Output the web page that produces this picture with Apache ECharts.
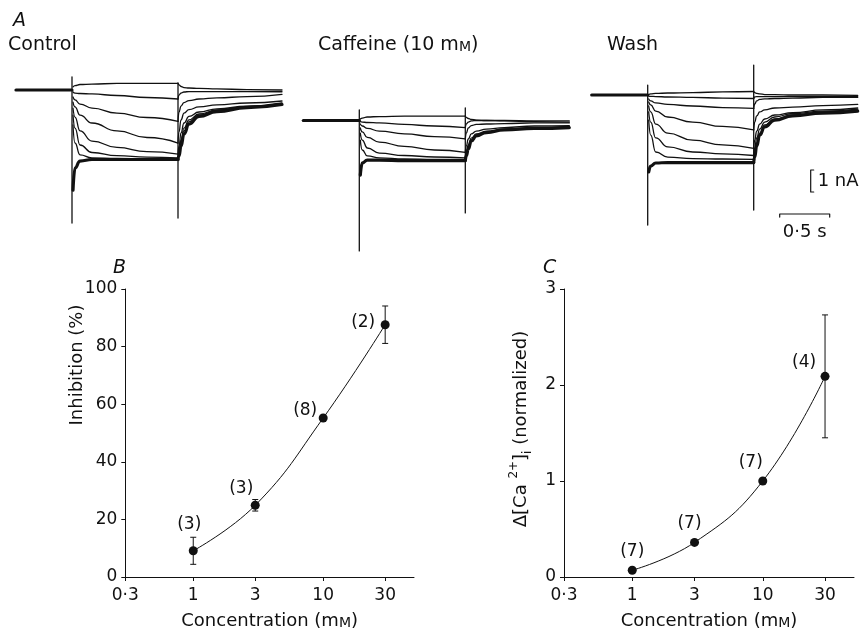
<!DOCTYPE html>
<html>
<head>
<meta charset="utf-8">
<script src="https://cdn.jsdelivr.net/npm/echarts@6/dist/echarts.min.js"></script>
<style>
html, body { margin: 0; padding: 0; background: #fff; }
#chart { width: 865px; height: 631px; }
</style>
</head>
<body>
<div id="chart"></div>
<script>
// ---- Panel A: membrane currents (nA, relative to holding current) vs time (s, step onset = 0)
const holdTimes = [-0.56, 0];
const pulseTimes = [0.01, 0.03, 0.08, 0.2, 0.45, 0.75, 1.06];
const pulseEnd = 1.06;
const tailTimes = [1.07, 1.09, 1.12, 1.17, 1.27, 1.45, 1.75, 2.1];

const controlPulse = [
  [0.14, 0.2, 0.25, 0.27, 0.3, 0.3, 0.3],
  [-0.09, -0.14, -0.16, -0.18, -0.25, -0.34, -0.41],
  [-0.32, -0.45, -0.64, -0.82, -1.05, -1.25, -1.43],
  [-0.55, -0.77, -1.14, -1.5, -1.86, -2.16, -2.41],
  [-0.82, -1.23, -1.86, -2.32, -2.61, -2.8, -2.91],
  [-1.14, -1.73, -2.5, -2.84, -2.98, -3.05, -3.09],
  [-1.59, -2.41, -2.95, -3.09, -3.11, -3.14, -3.14],
  [-4.55, -3.55, -3.23, -3.16, -3.16, -3.16, -3.16]
];
const controlTail = [
  [0.23, 0.16, 0.11, 0.09, 0.07, 0.05, 0.02, 0],
  [-0.23, -0.14, -0.09, -0.07, -0.07, -0.07, -0.07, -0.08],
  [-1.0, -0.73, -0.57, -0.48, -0.41, -0.36, -0.3, -0.2],
  [-1.91, -1.36, -1.05, -0.89, -0.77, -0.68, -0.59, -0.5],
  [-2.55, -1.95, -1.5, -1.2, -1.0, -0.86, -0.73, -0.59],
  [-2.82, -2.27, -1.73, -1.36, -1.09, -0.91, -0.75, -0.61],
  [-2.91, -2.41, -1.86, -1.45, -1.14, -0.93, -0.77, -0.64],
  [-3.0, -2.55, -2.0, -1.55, -1.2, -0.98, -0.8, -0.66]
];
const controlOnsetSpike = [0.59, -6.05];
const controlOffsetSpike = [0.32, -5.82];

const caffeinePulse = [
  [0.07, 0.11, 0.16, 0.18, 0.2, 0.2, 0.2],
  [-0.05, -0.07, -0.09, -0.11, -0.18, -0.25, -0.32],
  [-0.16, -0.25, -0.36, -0.48, -0.61, -0.73, -0.84],
  [-0.34, -0.52, -0.77, -0.98, -1.18, -1.34, -1.45],
  [-0.57, -0.89, -1.25, -1.48, -1.59, -1.66, -1.7],
  [-0.89, -1.34, -1.61, -1.7, -1.75, -1.77, -1.77],
  [-2.48, -1.93, -1.8, -1.8, -1.82, -1.82, -1.82]
];
const caffeineTail = [
  [0.14, 0.09, 0.05, 0.02, 0, 0, -0.02, -0.02],
  [-0.16, -0.07, -0.02, 0, 0, -0.02, -0.05, -0.07],
  [-0.57, -0.34, -0.23, -0.18, -0.16, -0.14, -0.11, -0.11],
  [-1.16, -0.84, -0.61, -0.48, -0.39, -0.32, -0.25, -0.23],
  [-1.43, -1.11, -0.8, -0.61, -0.48, -0.39, -0.32, -0.27],
  [-1.52, -1.2, -0.89, -0.66, -0.52, -0.41, -0.34, -0.3],
  [-1.61, -1.3, -0.93, -0.7, -0.55, -0.43, -0.36, -0.32]
];
const caffeineOnsetSpike = [0.48, -5.93];
const caffeineOffsetSpike = [0.57, -4.2];

const washPulse = [
  [0.02, 0.05, 0.07, 0.09, 0.11, 0.14, 0.16],
  [-0.05, -0.06, -0.07, -0.09, -0.11, -0.14, -0.16],
  [-0.18, -0.27, -0.36, -0.43, -0.5, -0.57, -0.61],
  [-0.32, -0.45, -0.73, -1.0, -1.23, -1.43, -1.59],
  [-0.5, -0.77, -1.32, -1.73, -2.05, -2.27, -2.43],
  [-0.77, -1.23, -1.95, -2.36, -2.59, -2.68, -2.75],
  [-1.14, -1.82, -2.59, -2.82, -2.89, -2.91, -2.93],
  [-3.5, -3.23, -3.09, -3.07, -3.07, -3.07, -3.07]
];
const washTail = [
  [0.11, 0.07, 0.05, 0.02, 0.02, 0, 0, -0.02],
  [-0.09, -0.07, -0.07, -0.07, -0.07, -0.07, -0.07, -0.07],
  [-0.41, -0.27, -0.2, -0.18, -0.16, -0.14, -0.11, -0.11],
  [-1.23, -0.95, -0.77, -0.68, -0.59, -0.55, -0.48, -0.43],
  [-2.05, -1.64, -1.32, -1.09, -0.91, -0.8, -0.68, -0.59],
  [-2.41, -1.95, -1.55, -1.23, -1.0, -0.84, -0.73, -0.64],
  [-2.64, -2.18, -1.73, -1.36, -1.09, -0.91, -0.77, -0.68],
  [-2.82, -2.32, -1.82, -1.45, -1.14, -0.95, -0.82, -0.73]
];
const washOnsetSpike = [0.45, -5.91];
const washOffsetSpike = [1.36, -5.23];

// calibration bars (drawn in the Wash panel's axes)
const currentBarNA = 1;     // 1 nA
const timeBarS = 0.5;       // 0.5 s
const currentBarAt = [1.63, -3.41];
const timeBarAt = [1.32, -5.41];

// ---- Panels B and C: concentration-response data
const concentrations = [1, 3, 10, 30];          // mM
const concTicks = [0.3, 1, 3, 10, 30];
const concTickLabels = ['0·3', '1', '3', '10', '30'];
const inhibition = [9.1, 24.9, 55.2, 87.6];     // %
const inhibitionErr = [4.7, 2.0, 0, 6.5];
const inhibitionN = ['(3)', '(3)', '(8)', '(2)'];
const caRise = [0.07, 0.36, 1.0, 2.09];         // normalized
const caRiseErr = [0, 0, 0, 0.64];
const caRiseN = ['(7)', '(7)', '(7)', '(4)'];

// ---- styling
const INK = '#111';
const FONT = '"DejaVu Sans", sans-serif';
const labelShiftB = [[-4, -26], [-14, -17], [-18, -7], [-22, -2]];
const labelShiftC = [[0, -19], [-5, -19], [-12, -18], [-21, -14]];

const chart = echarts.init(document.getElementById('chart'), null, { renderer: 'canvas' });

// trace panels: time axis 100 px/s, current axis 22 px/nA
const tracePanels = [
  { left: 12, top: 57, pulse: controlPulse, tail: controlTail, on: controlOnsetSpike, off: controlOffsetSpike },
  { left: 299.3, top: 87.5, pulse: caffeinePulse, tail: caffeineTail, on: caffeineOnsetSpike, off: caffeineOffsetSpike },
  { left: 587.7, top: 62, pulse: washPulse, tail: washTail, on: washOnsetSpike, off: washOffsetSpike }
];

const grids = [], xAxes = [], yAxes = [], series = [];

function traceLine(axis, data, width, smooth) {
  return {
    type: 'line', xAxisIndex: axis, yAxisIndex: axis, data: data,
    symbol: 'none', showSymbol: false, silent: true, clip: false,
    smooth: smooth ? 0.5 : false, smoothMonotone: 'x',
    lineStyle: { color: INK, width: width, cap: 'round', join: 'round' },
    z: 3
  };
}

tracePanels.forEach((p, gi) => {
  grids.push({ left: p.left, top: p.top, width: 275, height: 187 });
  xAxes.push({ type: 'value', gridIndex: gi, min: -0.6, max: 2.15, show: false });
  yAxes.push({ type: 'value', gridIndex: gi, min: -7, max: 1.5, show: false });
  // holding current before the step
  series.push(traceLine(gi, holdTimes.map(t => [t, 0]), 3.2, false));
  p.pulse.forEach((vals, k) => {
    const w = k === p.pulse.length - 1 ? 3.2 : 1.3;
    series.push(traceLine(gi, pulseTimes.map((t, i) => [t, vals[i]]), w, true));
    const tail = [[pulseEnd, vals[vals.length - 1]]].concat(tailTimes.map((t, i) => [t, p.tail[k][i]]));
    series.push(traceLine(gi, tail, w, true));
  });
  // capacitive transients at step onset and offset
  series.push(traceLine(gi, [[0, p.on[0]], [0, p.on[1]]], 1.3, false));
  series.push(traceLine(gi, [[pulseEnd, p.off[0]], [pulseEnd, p.off[1]]], 1.3, false));
});

// calibration bars
series.push(traceLine(2, [
  [currentBarAt[0] + 0.03, currentBarAt[1]], currentBarAt,
  [currentBarAt[0], currentBarAt[1] - currentBarNA], [currentBarAt[0] + 0.03, currentBarAt[1] - currentBarNA]
], 1.2, false));
series.push(traceLine(2, [
  [timeBarAt[0], timeBarAt[1] - 0.14], timeBarAt,
  [timeBarAt[0] + timeBarS, timeBarAt[1]], [timeBarAt[0] + timeBarS, timeBarAt[1] - 0.14]
], 1.2, false));
series.push({
  type: 'scatter', xAxisIndex: 2, yAxisIndex: 2, symbolSize: 0, silent: true,
  itemStyle: { opacity: 1 },
  data: [
    { value: [currentBarAt[0] + 0.07, currentBarAt[1] - currentBarNA / 2], label: { formatter: '1 nA', align: 'left' } },
    { value: [timeBarAt[0] + timeBarS / 2, timeBarAt[1] - 0.82], label: { formatter: '0·5 s', align: 'center' } }
  ],
  label: { show: true, position: 'inside', verticalAlign: 'middle', color: INK, fontFamily: FONT, fontSize: 18 }
});

// concentration-response panels
const logTicks = concTicks.map(Math.log10);
function tickText(v) {
  let best = 0;
  logTicks.forEach((t, i) => { if (Math.abs(t - v) < Math.abs(logTicks[best] - v)) best = i; });
  return concTickLabels[best];
}
function doseAxes(gi, left, width, yMax, yStep) {
  grids.push({ left: left, top: 289, width: width, height: 288 });
  xAxes.push({
    type: 'value', gridIndex: gi, min: Math.log10(0.3), max: Math.log10(50),
    name: '{t|Concentration (m}{s|M}{t|)}', nameLocation: 'middle', nameGap: 35,
    nameTextStyle: {
      color: INK, fontFamily: FONT, fontSize: 18,
      rich: { t: { fontFamily: FONT, fontSize: 18, color: INK, verticalAlign: 'bottom' },
              s: { fontFamily: FONT, fontSize: 14, color: INK, verticalAlign: 'bottom' } }
    },
    axisLine: { onZero: false, lineStyle: { color: INK, width: 1 } },
    axisTick: { customValues: logTicks, length: 4, lineStyle: { color: INK } },
    axisLabel: { customValues: logTicks, formatter: tickText, color: INK, fontFamily: FONT, fontSize: 17, margin: 10 },
    splitLine: { show: false }
  });
  yAxes.push({
    type: 'value', gridIndex: gi, min: 0, max: yMax, interval: yStep,
    axisLine: { show: true, onZero: false, lineStyle: { color: INK, width: 1 } },
    axisTick: { show: true, length: 4, lineStyle: { color: INK } },
    axisLabel: { color: INK, fontFamily: FONT, fontSize: 17, margin: 8 },
    splitLine: { show: false }
  });
}
doseAxes(3, 125.3, 288.7, 100, 20);
doseAxes(4, 564, 290, 3, 1);

function dosePanel(gi, vals, errs, nLabels, shifts) {
  const pts = concentrations.map((c, i) => [Math.log10(c), vals[i]]);
  series.push({
    type: 'line', xAxisIndex: gi, yAxisIndex: gi, data: pts, smooth: 0.45,
    symbol: 'none', silent: true, lineStyle: { color: INK, width: 1 }, z: 2
  });
  series.push({
    type: 'custom', xAxisIndex: gi, yAxisIndex: gi, silent: true, z: 3,
    data: concentrations.map((c, i) => [Math.log10(c), vals[i] - errs[i], vals[i] + errs[i]]).filter((d, i) => errs[i] > 0),
    encode: { x: 0, y: [1, 2] },
    renderItem: function (params, api) {
      const lo = api.coord([api.value(0), api.value(1)]);
      const hi = api.coord([api.value(0), api.value(2)]);
      const st = { stroke: INK, lineWidth: 1 };
      return {
        type: 'group', children: [
          { type: 'line', shape: { x1: lo[0], y1: lo[1], x2: hi[0], y2: hi[1] }, style: st },
          { type: 'line', shape: { x1: lo[0] - 3, y1: lo[1], x2: lo[0] + 3, y2: lo[1] }, style: st },
          { type: 'line', shape: { x1: hi[0] - 3, y1: hi[1], x2: hi[0] + 3, y2: hi[1] }, style: st }
        ]
      };
    }
  });
  series.push({
    type: 'scatter', xAxisIndex: gi, yAxisIndex: gi, silent: true, z: 4,
    symbol: 'circle', symbolSize: 9, itemStyle: { color: INK, opacity: 1 },
    data: pts.map((p, i) => ({ value: p, label: { offset: shifts[i] } })),
    label: {
      show: true, position: 'inside', align: 'center', verticalAlign: 'middle',
      color: INK, fontFamily: FONT, fontSize: 17,
      formatter: p => nLabels[p.dataIndex]
    }
  });
}
dosePanel(3, inhibition, inhibitionErr, inhibitionN, labelShiftB);
dosePanel(4, caRise, caRiseErr, caRiseN, labelShiftC);

function txt(x, y, text, size, extra) {
  return Object.assign({
    type: 'text', x: x, y: y, silent: true,
    style: Object.assign({
      text: text, fill: INK, font: size + 'px ' + FONT,
      textAlign: 'left', textVerticalAlign: 'middle', align: 'left', verticalAlign: 'middle'
    }, extra && extra.style)
  }, extra && extra.el);
}

chart.setOption({
  animation: false,
  backgroundColor: '#fff',
  grid: grids, xAxis: xAxes, yAxis: yAxes, series: series,
  graphic: [
    txt(13, 21, 'A', 19, { style: { font: 'italic 19px ' + FONT } }),
    txt(8, 45, 'Control', 19),
    txt(318, 45, '{t|Caffeine (10 m}{s|M}{t|)}', 19, { style: { rich: {
      t: { fontFamily: FONT, fontSize: 19, fill: INK, verticalAlign: 'bottom' },
      s: { fontFamily: FONT, fontSize: 14, fill: INK, verticalAlign: 'bottom' } } } }),
    txt(607, 45, 'Wash', 19),
    txt(113, 268, 'B', 19, { style: { font: 'italic 19px ' + FONT } }),
    txt(543, 268, 'C', 19, { style: { font: 'italic 19px ' + FONT } }),
    txt(77, 365, 'Inhibition (%)', 18, { el: { rotation: Math.PI / 2 },
      style: { textAlign: 'center', align: 'center' } }),
    txt(521, 429, '{t|Δ[Ca }{u|2+}{t|]}{d|i}{t| (normalized)}', 18, { el: { rotation: Math.PI / 2 },
      style: { textAlign: 'center', align: 'center', rich: {
        t: { fontFamily: FONT, fontSize: 18, fill: INK, lineHeight: 26, verticalAlign: 'middle' },
        u: { fontFamily: FONT, fontSize: 12, fill: INK, lineHeight: 12, verticalAlign: 'top' },
        d: { fontFamily: FONT, fontSize: 12, fill: INK, lineHeight: 12, verticalAlign: 'bottom' } } } })
  ]
});
</script>
</body>
</html>
